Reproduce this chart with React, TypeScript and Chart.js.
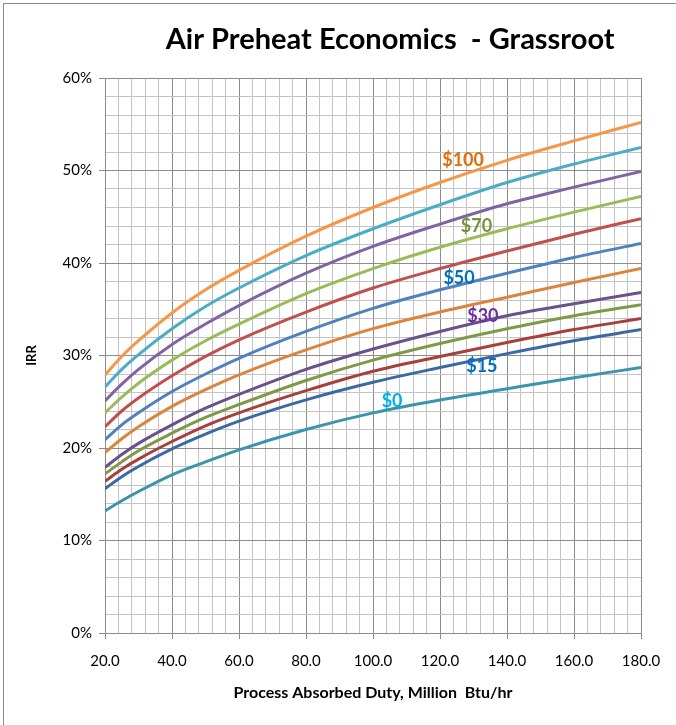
import React, { useEffect, useRef } from "react";
import { Chart, registerables } from "chart.js";

Chart.register(...registerables);

// Process absorbed duty, million Btu/hr
const duty = [20, 25, 30, 40, 50, 60, 80, 100, 120, 140, 160, 180];

// IRR (%) for each fuel price curve
const irr0 = [13.2, 14.3, 15.3, 17.1, 18.5, 19.8, 22.0, 23.8, 25.2, 26.4, 27.6, 28.7];
const irr15 = [15.6, 16.9, 18.0, 19.9, 21.5, 22.9, 25.2, 27.1, 28.7, 30.2, 31.6, 32.8];
const irr20 = [16.4, 17.7, 18.8, 20.7, 22.4, 23.8, 26.2, 28.3, 29.9, 31.4, 32.8, 34.0];
const irr25 = [17.2, 18.5, 19.7, 21.6, 23.3, 24.7, 27.3, 29.5, 31.3, 32.9, 34.3, 35.5];
const irr30 = [17.9, 19.3, 20.5, 22.5, 24.3, 25.8, 28.5, 30.7, 32.6, 34.3, 35.6, 36.8];
const irr40 = [19.5, 21.0, 22.3, 24.5, 26.3, 27.9, 30.6, 32.9, 34.7, 36.3, 37.9, 39.4];
const irr50 = [20.9, 22.5, 23.8, 26.1, 28.0, 29.7, 32.6, 35.1, 37.1, 38.9, 40.6, 42.1];
const irr60 = [22.3, 24.0, 25.4, 27.8, 29.9, 31.7, 34.7, 37.3, 39.4, 41.3, 43.1, 44.8];
const irr70 = [23.8, 25.5, 27.0, 29.5, 31.6, 33.4, 36.7, 39.4, 41.7, 43.7, 45.5, 47.2];
const irr80 = [25.1, 26.9, 28.5, 31.2, 33.4, 35.4, 38.9, 41.8, 44.2, 46.4, 48.2, 49.9];
const irr90 = [26.6, 28.5, 30.1, 32.9, 35.3, 37.3, 40.8, 43.7, 46.3, 48.7, 50.7, 52.5];
const irr100 = [27.9, 29.9, 31.6, 34.6, 37.1, 39.2, 42.9, 46.0, 48.7, 51.1, 53.2, 55.2];

const seriesNames = ["$0", "$15", "$20", "$25", "$30", "$40", "$50", "$60", "$70", "$80", "$90", "$100"];
const seriesValues = [irr0, irr15, irr20, irr25, irr30, irr40, irr50, irr60, irr70, irr80, irr90, irr100];
const seriesColors = [
  "#3B94AC", "#3D69A3", "#A5403C", "#7E9A47", "#69518A", "#DB843D",
  "#4F81BD", "#C0504D", "#9BBB59", "#8064A2", "#4BACC6", "#F79646",
];

// In-chart curve labels (data coordinates)
const curveLabels = ["$100", "$70", "$50", "$30", "$15", "$0"];
const curveLabelX = [126.9, 130.9, 125.7, 132.8, 132.5, 105.7];
const curveLabelY = [51.1, 44.0, 38.4, 34.3, 28.8, 25.1];
const curveLabelColors = ["#E46C0A", "#77933C", "#0070C0", "#7030A0", "#0070C0", "#00B0F0"];

const titleText = "Air Preheat Economics  - Grassroot";
const xTitle = "Process Absorbed Duty, Million  Btu/hr";
const yTitle = "IRR";

const FONT = "Lato, 'Open Sans', 'DejaVu Sans', sans-serif";
const MAJOR = "#8C8C8C";
const MINOR = "#C4C4C4";

const overlay = {
  id: "overlay",
  beforeDraw(chart: any) {
    const { ctx, width, height } = chart;
    ctx.save();
    ctx.fillStyle = "#fff";
    ctx.fillRect(0, 0, width, height);
    ctx.restore();
  },
  afterDraw(chart: any) {
    const { ctx, chartArea, scales } = chart;
    ctx.save();
    // frame
    ctx.strokeStyle = "#8A8A8A";
    ctx.lineWidth = 1;
    ctx.strokeRect(3.5, 3.5, chart.width + 20, chart.height + 20);
    // title
    ctx.fillStyle = "#000";
    ctx.font = `bold 29px ${FONT}`;
    ctx.textAlign = "center";
    ctx.textBaseline = "middle";
    ctx.fillText(titleText, chartArea.left + (chartArea.right - chartArea.left) * 0.532, 40);
    // x title
    ctx.font = `bold 16px ${FONT}`;
    ctx.fillText(xTitle, (chartArea.left + chartArea.right) / 2, chartArea.bottom + 60);
    // y title
    ctx.save();
    ctx.translate(chartArea.left - 73, (chartArea.top + chartArea.bottom) / 2);
    ctx.rotate(-Math.PI / 2);
    ctx.font = `bold 13px ${FONT}`;
    ctx.fillText(yTitle, 0, 0);
    ctx.restore();
    // curve labels
    ctx.font = `bold 18px ${FONT}`;
    curveLabels.forEach((t, i) => {
      ctx.fillStyle = curveLabelColors[i];
      ctx.fillText(t, scales.x.getPixelForValue(curveLabelX[i]), scales.y.getPixelForValue(curveLabelY[i]));
    });
    ctx.restore();
  },
};

export default function App() {
  const ref = useRef<HTMLCanvasElement>(null);
  useEffect(() => {
    document.body.style.margin = "0";
    const canvas = ref.current!;
    const chart = new Chart(canvas, {
      type: "line",
      data: {
        datasets: seriesNames.map((name, i) => ({
          label: name,
          data: duty.map((x, j) => ({ x, y: seriesValues[i][j] })),
          borderColor: seriesColors[i],
          backgroundColor: seriesColors[i],
          borderWidth: 3,
          pointRadius: 0,
          cubicInterpolationMode: "monotone" as const,
          fill: false,
        })),
      },
      options: {
        responsive: false,
        animation: false,
        layout: { padding: { top: 78, right: 35, left: 0, bottom: 0 } },
        plugins: {
          legend: { display: false },
          title: { display: false },
          tooltip: { enabled: false },
        },
        scales: {
          x: {
            type: "linear",
            min: 20,
            max: 180,
            afterFit: (s: any) => { s.height = 92; },
            ticks: {
              stepSize: 4,
              autoSkip: false,
              maxRotation: 0,
              padding: 13,
              color: "#000",
              font: { family: FONT, size: 15 },
              callback: (v: any) => ((Number(v) - 20) % 20 === 0 ? Number(v).toFixed(1) : ""),
            },
            grid: {
              color: (c: any) => ((c.tick.value - 20) % 20 === 0 ? MAJOR : MINOR),
              tickColor: (c: any) => ((c.tick.value - 20) % 20 === 0 ? MAJOR : "rgba(0,0,0,0)"),
              tickLength: 6,
              lineWidth: 1,
            },
            border: { color: MAJOR, width: 1 },
          },
          y: {
            type: "linear",
            min: 0,
            max: 60,
            afterFit: (s: any) => { s.width = 105; },
            ticks: {
              stepSize: 2,
              autoSkip: false,
              padding: 7,
              color: "#000",
              font: { family: FONT, size: 15 },
              callback: (v: any) => (Number(v) % 10 === 0 ? `${v}%` : ""),
            },
            grid: {
              color: (c: any) => (c.tick.value % 10 === 0 ? MAJOR : MINOR),
              tickColor: (c: any) => (c.tick.value % 10 === 0 ? MAJOR : "rgba(0,0,0,0)"),
              tickLength: 6,
              lineWidth: 1,
            },
            border: { color: MAJOR, width: 1 },
          },
        },
      },
      plugins: [overlay],
    });
    return () => chart.destroy();
  }, []);
  return <canvas ref={ref} width={676} height={725} style={{ display: "block" }} />;
}
